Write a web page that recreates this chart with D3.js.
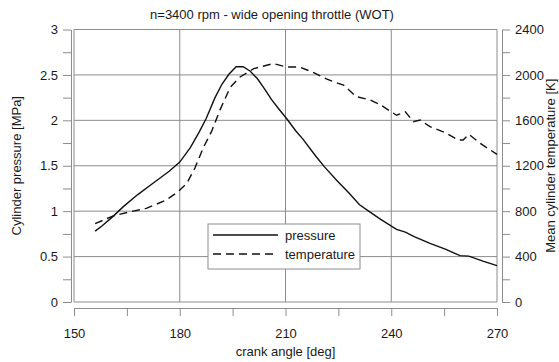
<!DOCTYPE html>
<html>
<head>
<meta charset="utf-8">
<script src="https://cdn.jsdelivr.net/npm/d3@7"></script>
<style>
  body { margin: 0; background: #fff; }
  svg text { font-family: "Liberation Sans", Arial, sans-serif; fill: #1a1a1a; }
</style>
</head>
<body>
<div class="graphContainer"></div>
<script>
// crank angle [deg] and cylinder pressure [MPa]
const pressureAngle = [156, 158, 161, 164, 168, 172.5, 177, 180, 183, 185.5, 187.5, 190, 192, 194, 196, 198, 200, 202, 204, 206, 208, 210.3, 213, 215, 218.5, 221, 224.5, 228, 231, 234, 237, 241.5, 244, 246.5, 251, 255.5, 259.5, 262, 266, 270];
const pressureValues = [0.78, 0.84, 0.94, 1.05, 1.18, 1.31, 1.44, 1.54, 1.70, 1.87, 2.02, 2.25, 2.40, 2.51, 2.59, 2.59, 2.54, 2.46, 2.35, 2.23, 2.13, 2.02, 1.88, 1.79, 1.61, 1.49, 1.34, 1.20, 1.07, 0.99, 0.91, 0.80, 0.77, 0.72, 0.645, 0.58, 0.51, 0.505, 0.45, 0.40];

// crank angle [deg] and mean cylinder temperature [K]
const tempAngle = [156, 161, 166, 170.5, 176, 179.5, 182, 184.3, 186.7, 189, 191.4, 194.3, 197, 201, 206.5, 210.3, 214, 218, 221.6, 224, 226.5, 230, 234, 237, 241.5, 244, 246.3, 248.2, 251, 255.7, 259, 260.4, 262, 265.2, 270];
const tempValues = [690, 757, 795, 825, 895, 970, 1045, 1180, 1360, 1500, 1690, 1890, 1980, 2055, 2100, 2070, 2070, 2020, 1965, 1935, 1910, 1810, 1780, 1735, 1645, 1675, 1588, 1603, 1544, 1486, 1427, 1427, 1477, 1398, 1300];

const xTicks = [150, 165, 180, 195, 210, 225, 240, 255, 270];
const xLabels = [150, 180, 210, 240, 270];
const pTicks = [0, 0.25, 0.5, 0.75, 1, 1.25, 1.5, 1.75, 2, 2.25, 2.5, 2.75, 3];
const pLabels = [0, 0.5, 1, 1.5, 2, 2.5, 3];
const tTicks = [0, 200, 400, 600, 800, 1000, 1200, 1400, 1600, 1800, 2000, 2200, 2400];
const tLabels = [0, 400, 800, 1200, 1600, 2000, 2400];
const seriesNames = ["pressure", "temperature"];

const w = 559,
  h = 362,
  plotLeft = 74, plotRight = 497, plotTop = 29.5, plotBottom = 302,
  gridColor = "#8c8c8c";

const canvas = d3.select(".graphContainer")
  .append("svg")
  .attr("width", w)
  .attr("height", h);

const x = d3.scaleLinear().domain([150, 270]).range([plotLeft, plotRight]);
const yP = d3.scaleLinear().domain([0, 3]).range([plotBottom, plotTop]);
const yT = d3.scaleLinear().domain([0, 2400]).range([plotBottom, plotTop]);

// grid lines
canvas.append("g")
  .selectAll("line")
  .data(pLabels)
  .enter()
  .append("line")
  .attr("x1", plotLeft).attr("x2", plotRight)
  .attr("y1", d => yP(d)).attr("y2", d => yP(d))
  .attr("stroke", gridColor);

canvas.append("g")
  .selectAll("line")
  .data(xLabels)
  .enter()
  .append("line")
  .attr("x1", d => x(d)).attr("x2", d => x(d))
  .attr("y1", plotTop).attr("y2", plotBottom)
  .attr("stroke", gridColor);

function styleAxis(g) {
  g.select(".domain").attr("stroke", gridColor);
  g.selectAll(".tick line").attr("stroke", gridColor);
  g.selectAll(".tick text")
    .attr("font-size", 13)
    .attr("fill", "#1a1a1a");
}

// axes, set slightly off the plot frame
canvas.append("g")
  .attr("transform", "translate(0," + (plotBottom + 6) + ")")
  .call(d3.axisBottom(x).tickValues(xTicks).tickSize(8).tickSizeOuter(0)
    .tickFormat(d => xLabels.includes(d) ? d : ""))
  .call(styleAxis)
  .call(g => g.selectAll(".tick text").attr("dy", "1.45em"));

canvas.append("g")
  .attr("transform", "translate(" + (plotLeft - 3) + ",0)")
  .call(d3.axisLeft(yP).tickValues(pTicks).tickSize(8).tickSizeOuter(0)
    .tickFormat(d => pLabels.includes(d) ? d : ""))
  .call(styleAxis)
  .call(g => g.selectAll(".tick text").attr("x", -13));

canvas.append("g")
  .attr("transform", "translate(" + (plotRight + 5) + ",0)")
  .call(d3.axisRight(yT).tickValues(tTicks).tickSize(8).tickSizeOuter(0)
    .tickFormat(d => tLabels.includes(d) ? d : ""))
  .call(styleAxis)
  .call(g => g.selectAll(".tick text").attr("x", 13));

// curves
const pressureLine = d3.line()
  .x((d, i) => x(pressureAngle[i]))
  .y(d => yP(d));

const tempLine = d3.line()
  .x((d, i) => x(tempAngle[i]))
  .y(d => yT(d));

canvas.append("path")
  .datum(tempValues)
  .attr("d", tempLine)
  .attr("fill", "none")
  .attr("stroke", "#111")
  .attr("stroke-width", 1.4)
  .attr("stroke-dasharray", "8,5");

canvas.append("path")
  .datum(pressureValues)
  .attr("d", pressureLine)
  .attr("fill", "none")
  .attr("stroke", "#111")
  .attr("stroke-width", 1.4);

// legend
const legend = canvas.append("g")
  .attr("transform", "translate(208,224)");

legend.append("rect")
  .attr("width", 152)
  .attr("height", 45)
  .attr("fill", "#fff")
  .attr("stroke", gridColor);

legend.selectAll(".key")
  .data(seriesNames)
  .enter()
  .append("line")
  .attr("x1", 5).attr("x2", 70)
  .attr("y1", (d, i) => 11 + i * 19)
  .attr("y2", (d, i) => 11 + i * 19)
  .attr("stroke", "#111")
  .attr("stroke-width", 1.4)
  .attr("stroke-dasharray", (d, i) => i ? "8,5" : null);

legend.selectAll("text")
  .data(seriesNames)
  .enter()
  .append("text")
  .attr("x", 77)
  .attr("y", (d, i) => 16 + i * 19)
  .attr("font-size", 13)
  .text(d => d);

// titles
canvas.append("text")
  .attr("x", 272)
  .attr("y", 19)
  .attr("text-anchor", "middle")
  .attr("font-size", 13)
  .text("n=3400 rpm - wide opening throttle (WOT)");

canvas.append("text")
  .attr("x", (plotLeft + plotRight) / 2)
  .attr("y", 356)
  .attr("text-anchor", "middle")
  .attr("font-size", 13)
  .text("crank angle [deg]");

canvas.append("text")
  .attr("transform", "translate(21," + (plotTop + plotBottom) / 2 + ") rotate(-90)")
  .attr("text-anchor", "middle")
  .attr("font-size", 13)
  .text("Cylinder pressure [MPa]");

canvas.append("text")
  .attr("transform", "translate(555," + (plotTop + plotBottom) / 2 + ") rotate(-90)")
  .attr("text-anchor", "middle")
  .attr("font-size", 13)
  .text("Mean cylinder temperature [K]");
</script>
</body>
</html>
